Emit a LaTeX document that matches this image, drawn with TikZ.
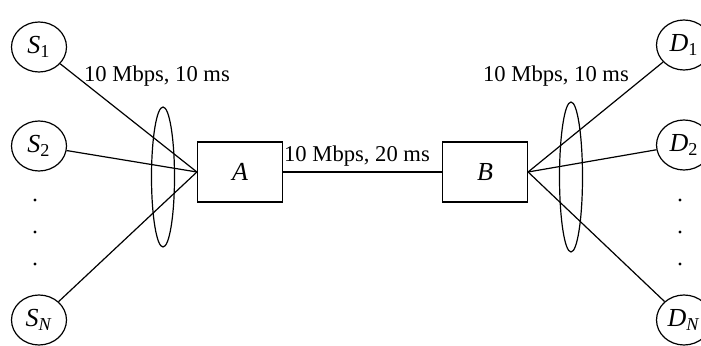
\documentclass[tikz,border=0pt]{standalone}
\usepackage{fontspec}
\setmainfont{Liberation Serif}
\usetikzlibrary{shapes.geometric}

\begin{document}
\begin{tikzpicture}[x=0.5pt,y=-0.5pt,line width=0.6pt,
                    every node/.style={font=\fontsize{11.3}{13}\selectfont},
                    hostt/.style={ellipse,draw,minimum width=27.5pt,minimum height=25pt,inner sep=0pt,font=\fontsize{13}{15}\selectfont},
                    routerr/.style={rectangle,draw,minimum width=42.5pt,minimum height=30pt,inner sep=0pt,font=\fontsize{13}{15}\selectfont},
                    bundlee/.style={ellipse,draw,inner sep=0pt,minimum width=11.5pt},
                    dott/.style={circle,fill,inner sep=0pt,minimum size=1.7pt}]
  \useasboundingbox (0,0) rectangle (701,346);

  \node (S1) [hostt] at (39,47) {\textit{S}\textsubscript{1}};
  \node (S2) [hostt] at (39,146) {\textit{S}\textsubscript{2}};
  \node (SN) [hostt] at (39,320) {\textit{S}\textsubscript{\textit{N}}};
  \node (D1) [hostt] at (684,45) {\textit{D}\textsubscript{1}};
  \node (D2) [hostt] at (684,145) {\textit{D}\textsubscript{2}};
  \node (DN) [hostt] at (684,320) {\textit{D}\textsubscript{\textit{N}}};

  \node (A) [routerr] at (240,172) {\textit{A}};
  \node (B) [routerr] at (485,172) {\textit{B}};

  \node (GrpS) [bundlee, minimum height=70pt] at (163,177) {};
  \node (GrpD) [bundlee, minimum height=75pt] at (571,177) {};

  % dots between the second and last hosts
  \foreach \y [count=\i] in {200,232,264} {
    \node (sdot\i) [dott] at (35,\y) {};
    \node (ddot\i) [dott] at (680,\y) {};
  }

  \path
    (S1) edge (A.west)
    (S2) edge (A.west)
    (SN) edge (A.west)
    (A) edge (B)
    (B.east) edge (D1)
    (B.east) edge (D2)
    (B.east) edge (DN)
    ;

  \node (LinkS) at (157,76) {10 Mbps, 10 ms};
  \node (LinkAB) at (357,156) {10 Mbps, 20 ms};
  \node (LinkD) at (556,76) {10 Mbps, 10 ms};
\end{tikzpicture}
\end{document}
